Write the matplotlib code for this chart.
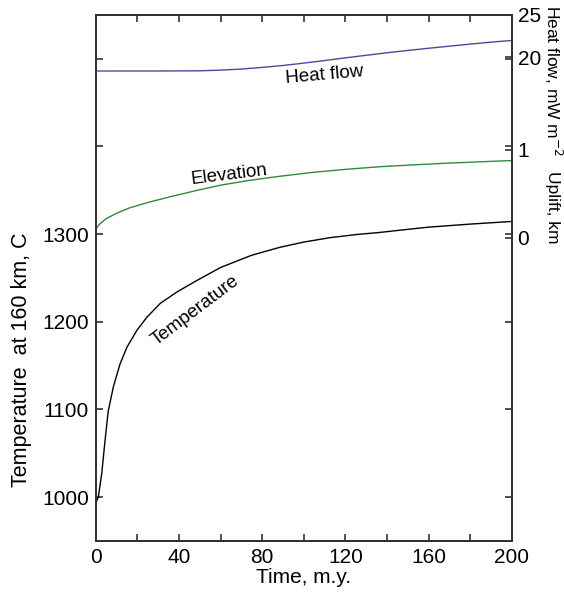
import matplotlib
matplotlib.use("Agg")
import matplotlib.pyplot as plt
import numpy as np

plt.rcParams['font.family'] = ['Liberation Sans', 'DejaVu Sans']

# Temperature at 160 km (C)
t_temp = [0, 1.25, 2.9, 4.5, 6, 8.5, 11.7, 15, 19.7, 24.5, 31, 39, 48.5, 60, 75,
          88.5, 100, 112.6, 125, 136.6, 150, 160, 180, 200]
temp = [993, 1000, 1027, 1065, 1098, 1126, 1152, 1171, 1190, 1205, 1221, 1234, 1247,
        1262, 1276, 1285, 1291, 1296, 1299.5, 1302, 1305.5, 1308, 1311.5, 1314.5]

# Elevation / uplift (km)
t_elev = [0, 2, 5, 10, 16, 24.5, 36, 48.5, 60, 72.5, 88, 104, 120, 136.6, 152, 168.6, 184, 200]
elev = [0.10, 0.16, 0.22, 0.28, 0.34, 0.40, 0.47, 0.54, 0.60, 0.65, 0.70, 0.745, 0.78,
        0.81, 0.83, 0.85, 0.865, 0.88]

# Heat flow (mW m^-2)
t_heat = [0, 30, 50, 60, 70, 80, 90, 100, 110, 120, 130, 140, 150, 160, 170, 180, 190, 200]
heat = [18.4, 18.4, 18.42, 18.5, 18.63, 18.82, 19.05, 19.33, 19.63, 19.95, 20.25, 20.55,
        20.82, 21.08, 21.33, 21.57, 21.8, 22.0]

xtick_labels = ['0', '', '40', '', '80', '', '120', '', '160', '', '200']
temp_ticks = [1000, 1100, 1200, 1300, 1400, 1500]
temp_labels = ['1000', '1100', '1200', '1300', '', '']
uplift_ticks = [0, 1]
heat_ticks = [20, 25]

fig = plt.figure(figsize=(5.64, 5.95), dpi=100)
ax = fig.add_axes([0.1697, 0.0908, 0.7381, 0.884])
ax2 = ax.twinx()
ax3 = ax.twinx()
for a in (ax2, ax3):
    a.set_position(ax.get_position())

spine_c = '#333333'
ax.plot(t_temp, temp, color='black', lw=1.0)
ax2.plot(t_elev, elev, color='#2e8b3e', lw=1.0)
ax3.plot(t_heat, heat, color='#4a4aa0', lw=1.0)

ax.set_xlim(0, 200)
ax.set_ylim(950, 1550)
ax2.set_ylim(-3.443, 2.534)
ax3.set_ylim(-37, 25)

fs = 15
ax.set_xticks(np.arange(0, 201, 20))
ax.set_xticklabels(xtick_labels)
ax.set_yticks(temp_ticks)
ax.set_yticklabels(temp_labels)
ax.tick_params(direction='in', length=5, width=1.2, color=spine_c, labelsize=fs,
               top=True, right=True, labelright=False, pad=5)
ax2.set_yticks(uplift_ticks)
ax2.tick_params(direction='in', length=5, width=1.2, color=spine_c, labelsize=fs, pad=4)
ax3.set_yticks(heat_ticks)
ax3.tick_params(direction='in', length=5, width=1.2, color=spine_c, labelsize=fs, pad=4)

for a in (ax, ax2, ax3):
    for s in a.spines.values():
        s.set_color(spine_c)
        s.set_linewidth(1.4)

ax.set_xlabel('Time, m.y.', fontsize=fs, labelpad=1)
fig.text(0.039, 0.395, 'Temperature  at 160 km, C', rotation=90, fontsize=15.5,
         ha='center', va='center')

fig.text(0.980, 0.864, 'Heat flow, mW m$^{-2}$', rotation=-90, fontsize=12.5,
         ha='center', va='center')
fig.text(0.980, 0.652, 'Uplift, km', rotation=-90, fontsize=12.5,
         ha='center', va='center')

ax3.text(110, 17.9, 'Heat flow', fontsize=13.5, rotation=5, ha='center', va='center')
ax2.text(64, 0.72, 'Elevation', fontsize=13.5, rotation=7, ha='center', va='center')
ax.text(47.7, 1213, 'Temperature', fontsize=13.5, rotation=37, ha='center', va='center')

fig.savefig('out.png', dpi=100)
